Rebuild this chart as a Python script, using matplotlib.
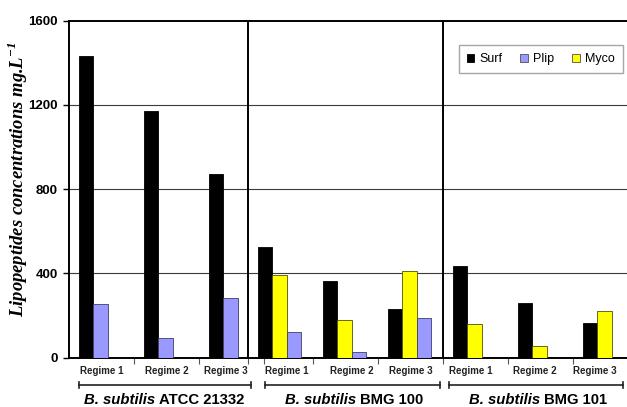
import matplotlib
matplotlib.use("Agg")
import matplotlib.pyplot as plt
from matplotlib.patches import Patch
from matplotlib.lines import Line2D
from matplotlib.transforms import blended_transform_factory

# ---------------- data ----------------
strains_italic = ["B. subtilis", "B. subtilis", "B. subtilis"]
strains_name = ["ATCC 21332", "BMG 100", "BMG 101"]
regimes = ["Regime 1", "Regime 2", "Regime 3"]
series = ["Surf", "Plip", "Myco"]

surf = [[1430, 1172, 870], [526, 362, 230], [435, 260, 164]]
plip = [[254, 94, 284], [120, 25, 189], [None, None, None]]
myco = [[None, None, None], [392, 178, 411], [158, 56, 222]]

yticks = [0, 400, 800, 1200, 1600]

# ---------------- layout ----------------
colors = {"Surf": "#000000", "Plip": "#9999FF", "Myco": "#FFFF00"}
edges = {"Surf": "#000000", "Plip": "#404060", "Myco": "#505000"}
# slot order of the series inside each group
slot_order = [["Surf", "Plip", "Myco"], ["Surf", "Myco", "Plip"], ["Surf", "Myco", "Plip"]]
group_offset = [0.246, 3.0, 6.0]
bracket_span = [(0.40, 3.05), (3.26, 5.95), (6.09, 8.77)]
label_shift = [[0.02, 0.015, -0.07], [0.115, 0.115, 0.02], [-0.06, -0.07, -0.145]]
bar_w = 0.222

fig = plt.figure(figsize=(6.27, 4.07), dpi=100)
ax = fig.add_axes([69 / 627, 49.5 / 407, 1 - 69 / 627, 336.8 / 407])

values = {"Surf": surf, "Plip": plip, "Myco": myco}
for g in range(3):
    for r in range(3):
        center = group_offset[g] + r + 0.485
        for s_i, s in enumerate(slot_order[g]):
            v = values[s][g][r]
            if v is None:
                continue
            x = center + (s_i - 1) * bar_w
            ax.bar(x, v, width=bar_w, color=colors[s], edgecolor=edges[s],
                   linewidth=0.6, zorder=3)

ax.set_xlim(0.246, 0.246 + 558 / 65)
ax.set_ylim(0, 1600)
ax.set_yticks(yticks)
ax.set_yticklabels([str(t) for t in yticks], fontsize=9.5, fontweight="bold",
                   fontfamily="Liberation Sans")
ax.tick_params(axis="y", length=4, width=1, direction="out", pad=4)
for t in yticks[1:-1]:
    ax.axhline(t, color="#3a3a3a", lw=0.8, zorder=1)

# category boundary ticks
bounds = []
for g in range(3):
    for r in range(3):
        b = group_offset[g] + r + 1
        if b < 8.8:
            bounds.append(b)
bounds = sorted(set([round(b, 3) for b in bounds] + [3.0, 6.0]))
ax.set_xticks(bounds)
ax.set_xticklabels([])
ax.tick_params(axis="x", length=4, width=0.8, direction="out", color="#555555")

for sp in ["left", "bottom", "top"]:
    ax.spines[sp].set_linewidth(1.4)
ax.spines["right"].set_visible(False)
for xs in [3.0, 6.0]:
    ax.axvline(xs, color="black", lw=1.4, zorder=4)

trans = blended_transform_factory(ax.transData, fig.transFigure)
for g in range(3):
    for r in range(3):
        c = group_offset[g] + r + 0.485 + label_shift[g][r]
        fig.text(c, 1 - 371 / 407, regimes[r], transform=trans,
                 ha="center", va="center", fontsize=7, fontweight="bold",
                 fontfamily="Liberation Sans", color="#222222")
    x0, x1 = bracket_span[g]
    yb = 1 - 385 / 407
    ax.add_line(Line2D([x0, x1], [yb, yb], transform=trans, color="#222222",
                       lw=1.2, clip_on=False))
    for xe in (x0, x1):
        ax.add_line(Line2D([xe, xe], [yb - 3 / 407, yb + 3 / 407], transform=trans,
                           color="#222222", lw=1.2, clip_on=False))

# group labels with mixed styles
fig.canvas.draw()
renderer = fig.canvas.get_renderer()
group_center_px = [164, 354, 538]
fs = 10.7
for g in range(3):
    t1 = fig.text(0, 0, strains_italic[g], fontsize=fs, fontweight="bold",
                  fontstyle="italic", fontfamily="Liberation Sans", va="baseline")
    t2 = fig.text(0, 0, strains_name[g], fontsize=fs, fontweight="bold",
                  fontfamily="Liberation Sans", va="baseline")
    w1 = t1.get_window_extent(renderer).width
    w2 = t2.get_window_extent(renderer).width
    gap = 0.278 * fs * 100 / 72
    total = w1 + gap + w2
    xs = group_center_px[g] - total / 2
    yb = 3 / 407
    t1.set_position((xs / 627, yb))
    t2.set_position(((xs + w1 + gap) / 627, yb))

# y label
fig.text(17.5 / 627, 1 - 179 / 407, r"Lipopeptides concentrations mg.L$^{\mathregular{-1}}$",
         rotation=90, ha="center", va="center", fontsize=13.4, fontweight="bold",
         fontstyle="italic", fontfamily="Liberation Serif")

handles = [Patch(facecolor=colors[s], edgecolor="#000000" if s == "Surf" else "#505050",
                 linewidth=0.6) for s in series]
leg = fig.legend(handles, series, loc="upper right", bbox_to_anchor=(623 / 627, 1 - 45 / 407),
                 ncol=3, frameon=True, fancybox=False,
                 prop={"family": "Liberation Sans", "size": 9},
                 handlelength=0.6, handleheight=0.6, handletextpad=0.45,
                 columnspacing=1.4, borderpad=0.65, borderaxespad=0)
leg.get_frame().set_edgecolor("#909090")
leg.get_frame().set_linewidth(1.0)

fig.savefig("out.png", dpi=100)
